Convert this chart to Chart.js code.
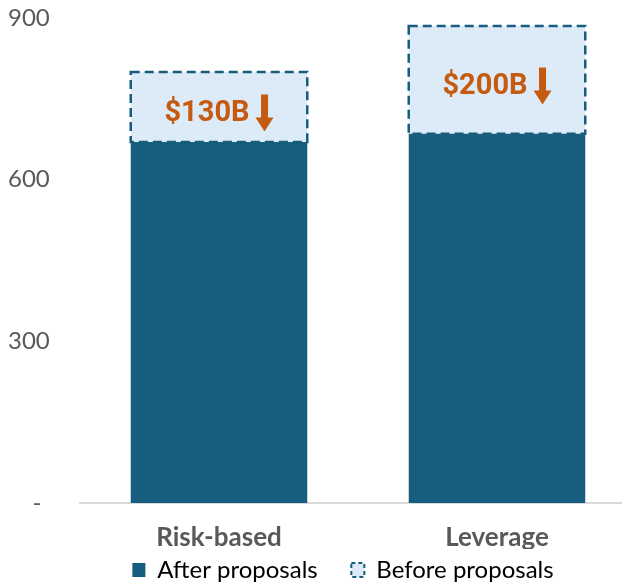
<!DOCTYPE html>
<html>
<head>
<meta charset="utf-8">
<script src="https://cdn.jsdelivr.net/npm/chart.js@4.4.1/dist/chart.umd.min.js"></script>
<style>
  html, body { margin: 0; padding: 0; background: #fff; overflow: hidden; }
  #wrap { width: 636px; height: 587px; }
</style>
</head>
<body>
<div id="wrap"><canvas id="capitalChart" width="636" height="587"></canvas></div>
<script>
const categories = ['Risk-based', 'Leverage'];
const afterValues = [670, 685];
const beforeValues = [800, 885];
const reductionLabels = ['$130B', '$200B'];
const yTicks = [0, 300, 600, 900];

const darkBlue = '#175d7d';
const lightBlue = '#ddeaf7';
const orange = '#c55a11';
const greyText = '#595959';

const reductionPlugin = {
    id: 'reduction',
    afterLayout(chart) {
        // legend sits a little right of the canvas centre
        chart.legend.left += 21;
        chart.legend.right += 21;
    },
    afterDatasetsDraw(chart) {
        const ctx = chart.ctx;
        const meta = chart.getDatasetMeta(1);
        meta.data.forEach((bar, i) => {
            const left = bar.x - bar.width / 2;
            const top = Math.min(bar.y, bar.base);
            const bottom = Math.max(bar.y, bar.base);
            ctx.save();
            ctx.strokeStyle = darkBlue;
            ctx.lineWidth = 2.5;
            ctx.setLineDash([9, 5]);
            ctx.strokeRect(left, top, bar.width, bottom - top);
            ctx.restore();

            ctx.save();
            ctx.font = 'bold 29px Roboto';
            const text = reductionLabels[i];
            const tw = ctx.measureText(text).width;
            const gap = 6, arrowW = 18, arrowH = 37;
            const total = tw + gap + arrowW;
            const cy = (top + bottom) / 2 + 6;
            const startX = bar.x - total / 2;
            ctx.fillStyle = orange;
            ctx.textBaseline = 'middle';
            ctx.textAlign = 'left';
            ctx.fillText(text, startX, cy + 1);

            const ax = startX + tw + gap + arrowW / 2;
            const ay = cy - arrowH / 2;
            const shaft = 7, headH = 14;
            ctx.beginPath();
            ctx.moveTo(ax - shaft / 2, ay);
            ctx.lineTo(ax + shaft / 2, ay);
            ctx.lineTo(ax + shaft / 2, ay + arrowH - headH);
            ctx.lineTo(ax + arrowW / 2, ay + arrowH - headH);
            ctx.lineTo(ax, ay + arrowH);
            ctx.lineTo(ax - arrowW / 2, ay + arrowH - headH);
            ctx.lineTo(ax - shaft / 2, ay + arrowH - headH);
            ctx.closePath();
            ctx.fill();
            ctx.restore();
        });
    }
};

const ctx = document.getElementById('capitalChart').getContext('2d');
const capitalChart = new Chart(ctx, {
    type: 'bar',
    data: {
        labels: categories,
        datasets: [{
            label: 'After proposals',
            data: afterValues,
            backgroundColor: darkBlue,
            borderWidth: 0
        }, {
            label: 'Before proposals',
            data: afterValues.map((a, i) => [a, beforeValues[i]]),
            backgroundColor: lightBlue,
            borderWidth: 0
        }]
    },
    options: {
        responsive: false,
        animation: false,
        barPercentage: 0.635,
        categoryPercentage: 1,
        layout: {
            padding: { top: 18, right: 0, left: 8, bottom: -5 }
        },
        scales: {
            x: {
                stacked: true,
                grid: { display: false, drawTicks: false },
                border: { display: true, color: '#d9d9d9', width: 2 },
                afterFit(axis) { axis.height = 46; },
                ticks: {
                    color: greyText,
                    padding: 19,
                    font: { family: 'Lato', size: 26, weight: 'bold' }
                }
            },
            y: {
                stacked: false,
                min: 0,
                max: 900,
                afterBuildTicks(axis) {
                    axis.ticks = yTicks.map(v => ({ value: v }));
                },
                afterFit(axis) { axis.width = 72; },
                grid: { display: false, drawTicks: false },
                border: { display: false },
                ticks: {
                    color: greyText,
                    padding: 0,
                    crossAlign: 'far',
                    font: { family: 'Lato', size: 24 },
                    callback: (v) => v === 0 ? '    -' : v
                }
            }
        },
        plugins: {
            tooltip: { enabled: false },
            legend: {
                position: 'bottom',
                labels: {
                    color: greyText,
                    boxWidth: 13,
                    boxHeight: 14,
                    padding: 9,
                    font: { family: 'Lato', size: 24 },
                    generateLabels() {
                        return [{
                            text: 'After proposals    ',
                            fillStyle: darkBlue,
                            strokeStyle: darkBlue,
                            lineWidth: 0,
                            datasetIndex: 0
                        }, {
                            text: 'Before proposals',
                            fillStyle: lightBlue,
                            strokeStyle: darkBlue,
                            lineWidth: 2,
                            lineDash: [4, 3],
                            datasetIndex: 1
                        }];
                    }
                }
            }
        }
    },
    plugins: [reductionPlugin]
});
</script>
</body>
</html>
